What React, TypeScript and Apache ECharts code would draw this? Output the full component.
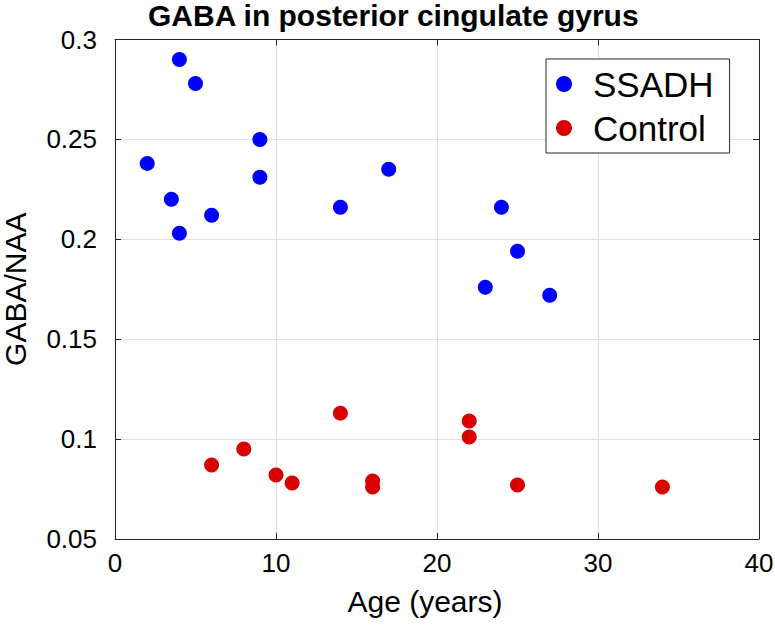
import React, { useEffect, useRef } from "react";
import * as echarts from "echarts";

const titleText = "GABA in posterior cingulate gyrus";
const xAxisName = "Age (years)";
const yAxisName = "GABA/NAA";
const seriesNames = ["SSADH", "Control"];

const ssadhAge = [4, 5, 9, 2, 9, 3.5, 6, 4, 17, 14, 24, 25, 23, 27];
const ssadhRatio = [0.29, 0.278, 0.25, 0.238, 0.231, 0.22, 0.212, 0.203, 0.235, 0.216, 0.216, 0.194, 0.176, 0.172];

const controlAge = [6, 8, 10, 11, 14, 16, 16, 22, 22, 25, 34];
const controlRatio = [0.087, 0.095, 0.082, 0.078, 0.113, 0.079, 0.076, 0.109, 0.101, 0.077, 0.076];

const xMin = 0, xMax = 40, xStep = 10;
const yMin = 0.05, yMax = 0.3, yStep = 0.05;

const FONT = "'Liberation Sans', Arial, Helvetica, sans-serif";
const AXIS = "#262626";
const GRID = "#dfdfdf";

export default function App() {
  const ref = useRef<HTMLDivElement>(null);
  useEffect(() => {
    if (!ref.current) return;
    const chart = echarts.init(ref.current, null, { renderer: "svg" });
    const ssadh = ssadhAge.map((a, i) => [a, ssadhRatio[i]]);
    const control = controlAge.map((a, i) => [a, controlRatio[i]]);
    const fmt = (v: number) => String(+v.toFixed(2));
    chart.setOption({
      animation: false,
      backgroundColor: "#ffffff",
      textStyle: { fontFamily: FONT },
      title: {
        text: titleText,
        left: 148,
        top: 0,
        padding: 0,
        textStyle: { fontFamily: FONT, fontWeight: "bold", fontSize: 30, color: "#000" },
      },
      legend: {
        orient: "vertical",
        left: 546,
        top: 59,
        padding: [5, 16, 5, 10],
        itemGap: 4,
        itemWidth: 36,
        itemHeight: 16,
        icon: "circle",
        borderColor: AXIS,
        borderWidth: 1,
        backgroundColor: "#fff",
        data: seriesNames,
        textStyle: { fontFamily: FONT, fontSize: 35, lineHeight: 40, color: "#000", padding: [0, 0, 0, 6] },
      },
      grid: { left: 115, right: 16, top: 39.5, bottom: 88, containLabel: false, outerBoundsMode: "none" },
      xAxis: [
        {
          type: "value",
          min: xMin,
          max: xMax,
          interval: xStep,
          name: xAxisName,
          nameLocation: "middle",
          nameGap: 47,
          nameTextStyle: { fontFamily: FONT, fontSize: 30, color: "#000", padding: [0, 24, 0, 0] },
          axisLine: { show: true, onZero: false, lineStyle: { color: AXIS, width: 1 } },
          axisTick: { show: true, inside: true, length: 6, lineStyle: { color: AXIS } },
          axisLabel: { fontFamily: FONT, fontSize: 26, color: "#000", margin: 11 },
          splitLine: { show: true, lineStyle: { color: GRID, width: 1 } },
        },
        {
          type: "value",
          position: "top",
          min: xMin,
          max: xMax,
          interval: xStep,
          axisLine: { show: true, onZero: false, lineStyle: { color: AXIS, width: 1 } },
          axisTick: { show: true, inside: true, length: 6, lineStyle: { color: AXIS } },
          axisLabel: { show: false },
          splitLine: { show: false },
        },
      ],
      yAxis: [
        {
          type: "value",
          min: yMin,
          max: yMax,
          interval: yStep,
          name: yAxisName,
          nameLocation: "middle",
          nameGap: 85,
          nameRotate: 90,
          nameTextStyle: { fontFamily: FONT, fontSize: 30, color: "#000" },
          axisLine: { show: true, onZero: false, lineStyle: { color: AXIS, width: 1 } },
          axisTick: { show: true, inside: true, length: 6, lineStyle: { color: AXIS } },
          axisLabel: { fontFamily: FONT, fontSize: 26, color: "#000", margin: 18, formatter: fmt },
          splitLine: { show: true, lineStyle: { color: GRID, width: 1 } },
        },
        {
          type: "value",
          position: "right",
          min: yMin,
          max: yMax,
          interval: yStep,
          axisLine: { show: true, onZero: false, lineStyle: { color: AXIS, width: 1 } },
          axisTick: { show: true, inside: true, length: 6, lineStyle: { color: AXIS } },
          axisLabel: { show: false },
          splitLine: { show: false },
        },
      ],
      series: [
        {
          name: seriesNames[0],
          type: "scatter",
          data: ssadh,
          symbol: "circle",
          symbolSize: 15,
          itemStyle: { color: "#0000ff", opacity: 1 },
        },
        {
          name: seriesNames[1],
          type: "scatter",
          data: control,
          symbol: "circle",
          symbolSize: 15,
          itemStyle: { color: "#d90000", opacity: 1 },
        },
      ],
    });
    return () => chart.dispose();
  }, []);
  return (
    <div
      ref={ref}
      style={{ position: "fixed", left: 0, top: 0, width: 775, height: 627, background: "#fff" }}
    />
  );
}
